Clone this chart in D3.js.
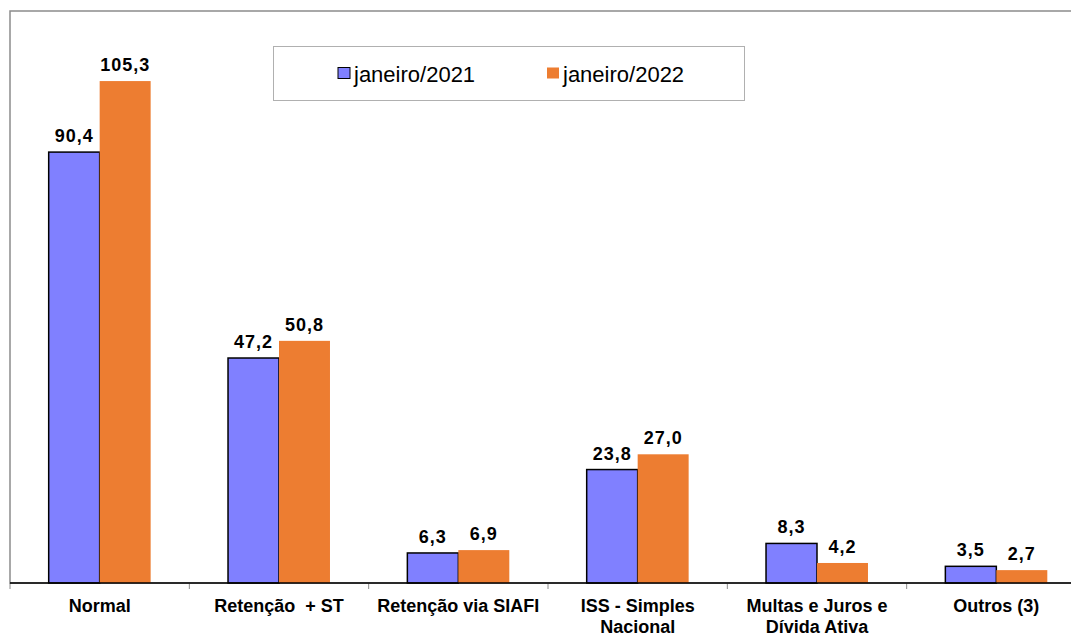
<!DOCTYPE html>
<html>
<head>
<meta charset="utf-8">
<script src="https://cdn.jsdelivr.net/npm/d3@7"></script>
<style>
  html, body { margin: 0; padding: 0; background: #fff; }
  svg { display: block; font-family: "Liberation Sans", Arial, sans-serif; }
</style>
</head>
<body>
<svg id="chart" width="1071" height="634"></svg>
<script>
const categories = ["Normal", "Retenção  + ST", "Retenção via SIAFI", "ISS - Simples\nNacional", "Multas e Juros e\nDívida Ativa", "Outros (3)"];
const seriesNames = ["janeiro/2021", "janeiro/2022"];
const values2021 = [90.4, 47.2, 6.3, 23.8, 8.3, 3.5];
const values2022 = [105.3, 50.8, 6.9, 27.0, 4.2, 2.7];
const colors = ["#8080FF", "#ED7D31"];

const svg = d3.select("#chart");
const plot = { left: 10, top: 11, right: 1086, bottom: 583 };

const x = d3.scaleBand().domain(categories).range([plot.left, plot.right]).padding(0);
const xs = d3.scaleBand().domain(seriesNames).range([0, x.bandwidth()]).paddingInner(0).paddingOuter(0.759);
const y = d3.scaleLinear().domain([0, 120]).range([plot.bottom, plot.top]);

const data = categories.map((c, i) => ({ cat: c, vals: [values2021[i], values2022[i]] }));

// frame (plot area border)
svg.append("rect")
  .attr("x", plot.left).attr("y", plot.top)
  .attr("width", plot.right - plot.left).attr("height", plot.bottom - plot.top)
  .attr("fill", "none").attr("stroke", "#8c8c8c").attr("stroke-width", 1.5);

// bars
const groups = svg.selectAll("g.cat").data(data).join("g").attr("class", "cat")
  .attr("transform", d => `translate(${x(d.cat)},0)`);

groups.selectAll("rect").data(d => d.vals.map((v, k) => ({ s: seriesNames[k], v, k })))
  .join("rect")
  .attr("x", d => xs(d.s))
  .attr("y", d => y(d.v))
  .attr("width", xs.bandwidth())
  .attr("height", d => y(0) - y(d.v))
  .attr("fill", d => colors[d.k])
  .attr("stroke", d => d.k === 0 ? "#000" : "none")
  .attr("stroke-width", 1.5);

const fmt = v => v.toFixed(1).replace(".", ",");
groups.selectAll("text.val").data(d => d.vals.map((v, k) => ({ s: seriesNames[k], v, k })))
  .join("text").attr("class", "val")
  .attr("x", d => xs(d.s) + xs.bandwidth() / 2)
  .attr("y", d => y(d.v) - 10)
  .attr("text-anchor", "middle")
  .attr("font-size", 18).attr("font-weight", "bold")
  .attr("letter-spacing", 1)
  .attr("fill", "#000")
  .text(d => fmt(d.v));

// x axis
const axis = d3.axisBottom(x).tickSize(6).tickFormat("");
const gx = svg.append("g").attr("transform", `translate(0,${plot.bottom})`).call(axis);
gx.select(".domain").remove();
gx.selectAll(".tick").remove();
// ticks at category boundaries
const bounds = categories.map(c => x(c)).concat([plot.right]);
gx.selectAll("line.b").data(bounds).join("line").attr("class", "b")
  .attr("x1", d => d).attr("x2", d => d).attr("y1", 0).attr("y2", 6)
  .attr("stroke", "#8c8c8c").attr("stroke-width", 1);
svg.append("line")
  .attr("x1", plot.left).attr("x2", plot.right)
  .attr("y1", plot.bottom).attr("y2", plot.bottom)
  .attr("stroke", "#000").attr("stroke-width", 1.5);

// category labels
const labels = svg.selectAll("text.cat").data(categories).join("text").attr("class", "cat")
  .attr("text-anchor", "middle")
  .attr("font-size", 18).attr("font-weight", "bold")
  .style("white-space", "pre")
  .attr("fill", "#000");
labels.each(function (c) {
  const lines = c.split("\n");
  const t = d3.select(this);
  lines.forEach((ln, i) => {
    t.append("tspan").attr("x", x(c) + x.bandwidth() / 2).attr("y", 612 + i * 21).text(ln);
  });
});

// legend
const lg = svg.append("g");
lg.append("rect").attr("x", 273.5).attr("y", 46.5).attr("width", 471).attr("height", 54)
  .attr("fill", "#fff").attr("stroke", "#b0b0b0").attr("stroke-width", 1);
const legX = [338, 547];
seriesNames.forEach((s, i) => {
  lg.append("rect").attr("x", legX[i]).attr("y", 67.5).attr("width", 12).attr("height", 11)
    .attr("fill", colors[i]).attr("stroke", i === 0 ? "#000" : "none").attr("stroke-width", 1);
  lg.append("text").attr("x", legX[i] + 16).attr("y", 81.5)
    .attr("font-size", 22).attr("fill", "#000").text(s);
});
</script>
</body>
</html>
